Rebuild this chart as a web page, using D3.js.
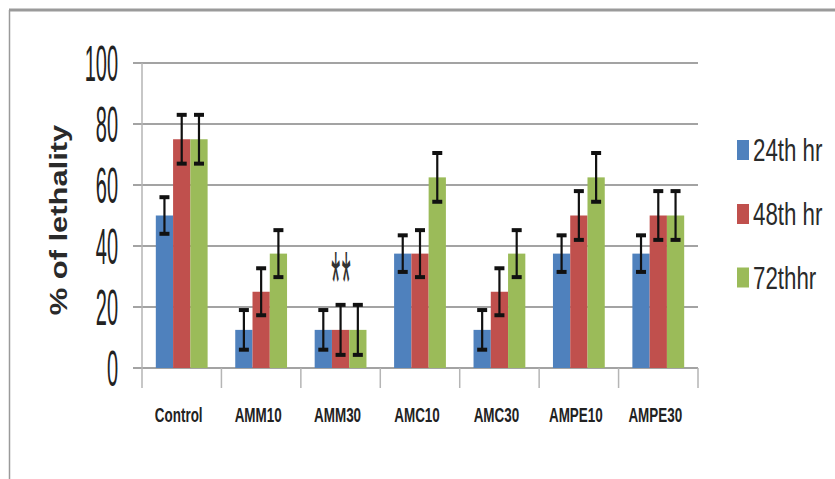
<!DOCTYPE html>
<html>
<head>
<meta charset="utf-8">
<script src="https://cdn.jsdelivr.net/npm/d3@7"></script>
<style>
  body { margin: 0; background: #fff; }
  text { font-family: "Liberation Sans", Arial, sans-serif; }
</style>
</head>
<body>
<script>
// data
const categories = ['Control', 'AMM10', 'AMM30', 'AMC10', 'AMC30', 'AMPE10', 'AMPE30'];
const series = ['24th hr', '48th hr', '72thhr'];
const colors = ['#4F81BD', '#C0504D', '#9BBB59'];
const val_24 = [50, 12.5, 12.5, 37.5, 12.5, 37.5, 37.5];
const val_48 = [75, 25, 12.5, 37.5, 25, 50, 50];
const val_72 = [75, 37.5, 12.5, 62.5, 37.5, 62.5, 50];
const err_24 = [6, 6.5, 6.5, 6, 6.5, 6, 6];
const err_48 = [8, 7.7, 8.2, 7.7, 7.7, 8, 8];
const err_72 = [8, 7.7, 8.2, 8, 7.7, 8, 8];
const y_ticks = [0, 20, 40, 60, 80, 100];
const note_text = '**';
const note_cat = 'AMM30';

const W = 835, H = 479;
const svg = d3.select('body').append('svg')
  .attr('width', W)
  .attr('height', H);

// outer frame
svg.append('line')
  .attr('x1', 9).attr('x2', W).attr('y1', 10).attr('y2', 10)
  .attr('stroke', '#9a9a9a').attr('stroke-width', 3);
svg.append('line')
  .attr('x1', 9.5).attr('x2', 9.5).attr('y1', 10).attr('y2', H)
  .attr('stroke', '#9a9a9a').attr('stroke-width', 1.5);

// scales
const x = d3.scaleBand().domain(categories).range([142, 698]);
const xs = d3.scaleBand().domain(series).range([0, x.bandwidth()]).paddingOuter(0.8);
const y = d3.scaleLinear().domain([0, 100]).range([368, 63]);

// gridlines
svg.append('g').selectAll('line')
  .data(y_ticks)
  .join('line')
  .attr('x1', 133).attr('x2', 698)
  .attr('y1', d => y(d)).attr('y2', d => y(d))
  .attr('stroke', '#a3a3a3').attr('stroke-width', 2.2);

// y axis line + category ticks
svg.append('line')
  .attr('x1', 142).attr('x2', 142).attr('y1', y(100)).attr('y2', y(0) + 20)
  .attr('stroke', '#b5b5b5').attr('stroke-width', 1.5);
svg.append('g').selectAll('line')
  .data(categories)
  .join('line')
  .attr('x1', d => x(d) + x.bandwidth()).attr('x2', d => x(d) + x.bandwidth())
  .attr('y1', y(0)).attr('y2', y(0) + 20)
  .attr('stroke', '#b5b5b5').attr('stroke-width', 1.5);

// y tick labels (tall condensed look)
svg.append('g').selectAll('text')
  .data(y_ticks)
  .join('text')
  .attr('transform', d => `translate(118, ${y(d) + 18}) scale(0.4, 1)`)
  .attr('text-anchor', 'end')
  .attr('font-size', 50)
  .attr('fill', '#222')
  .text(d => d);

// y axis title
svg.append('text')
  .attr('transform', 'translate(67, 220) rotate(-90) scale(1.03, 0.78)')
  .attr('text-anchor', 'middle')
  .attr('font-size', 30)
  .attr('font-weight', 'bold')
  .attr('fill', '#2a2a2a')
  .text('% of lethality');

// category labels
svg.append('g').selectAll('text')
  .data(categories)
  .join('text')
  .attr('transform', d => `translate(${x(d) + x.bandwidth() / 2 - 3}, 421.5) scale(0.64, 1)`)
  .attr('text-anchor', 'middle')
  .attr('font-size', 21)
  .attr('font-weight', 'bold')
  .attr('fill', '#222')
  .text(d => d);

// bars + error bars
const vals = [val_24, val_48, val_72];
const errs = [err_24, err_48, err_72];
let rows = [];
series.forEach((s, si) => {
  categories.forEach((c, ci) => {
    rows.push({ s: s, c: c, v: vals[si][ci], e: errs[si][ci], col: colors[si] });
  });
});

const bars = svg.append('g');
bars.selectAll('rect')
  .data(rows)
  .join('rect')
  .attr('x', d => x(d.c) + xs(d.s))
  .attr('y', d => y(d.v))
  .attr('width', xs.bandwidth())
  .attr('height', d => y(0) - y(d.v))
  .attr('fill', d => d.col);

const eb = svg.append('g');
rows.forEach((d) => {
  const cx = x(d.c) + xs(d.s) + xs.bandwidth() / 2;
  eb.append('line')
    .attr('x1', cx).attr('x2', cx)
    .attr('y1', y(d.v + d.e)).attr('y2', y(d.v - d.e))
    .attr('stroke', '#111').attr('stroke-width', 2.2);
  [d.v + d.e, d.v - d.e].forEach((v) => {
    eb.append('line')
      .attr('x1', cx - 5).attr('x2', cx + 5)
      .attr('y1', y(v)).attr('y2', y(v))
      .attr('stroke', '#111').attr('stroke-width', 4);
  });
});

// significance note
svg.append('text')
  .attr('transform', `translate(${x(note_cat) + 41}, 311) scale(0.27, 1)`)
  .attr('text-anchor', 'middle')
  .attr('font-family', 'DejaVu Serif')
  .attr('font-size', 85)
  .attr('letter-spacing', 6)
  .attr('fill', '#333')
  .text(note_text);

// legend
const lg = svg.append('g');
const leg_y = [150, 214, 277.5];
series.forEach((s, i) => {
  lg.append('rect')
    .attr('x', 737).attr('y', leg_y[i] - 10)
    .attr('width', 12).attr('height', 20)
    .attr('fill', colors[i]);
  lg.append('text')
    .attr('transform', `translate(753, ${leg_y[i] + 11}) scale(0.72, 1)`)
    .attr('font-size', 31)
    .attr('fill', '#2a2a2a')
    .text(s);
});
</script>
</body>
</html>
